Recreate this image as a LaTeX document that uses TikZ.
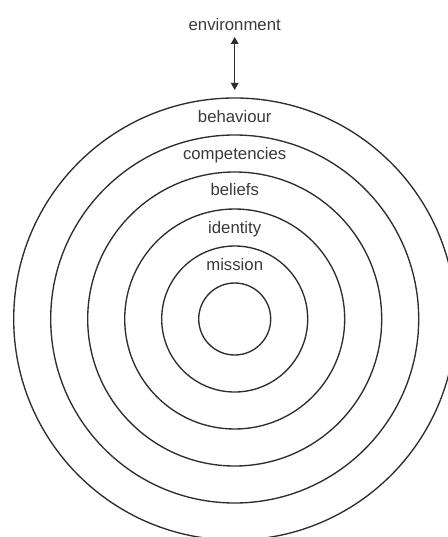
\documentclass[tikz,border=0pt]{standalone}
\usepackage{fontspec}
\setmainfont{Liberation Sans}
\usetikzlibrary{arrows.meta}
\definecolor{linec}{HTML}{2E2E2E}
\definecolor{textc}{HTML}{3A3A3A}
\begin{document}
\begin{tikzpicture}[x=1bp,y=1bp,
  ring/.style={circle, draw=linec, line width=1.35bp, inner sep=0pt, outer sep=0pt},
  lbl/.style={anchor=base, font=\fontsize{16.8}{19}\selectfont, text=textc, inner sep=0pt},
  arr/.style={draw=linec, line width=1.4bp, {Triangle[length=7bp,width=7.5bp]}-{Triangle[length=7bp,width=7.5bp]}}]
\useasboundingbox (0,0) rectangle (448,-537);
\coordinate (c) at (234.7,-319);
\node[ring, minimum size=72bp]  (r1) at (c) {};
\node[ring, minimum size=146bp] (r2) at (c) {};
\node[ring, minimum size=220bp] (r3) at (c) {};
\node[ring, minimum size=294bp] (r4) at (c) {};
\node[ring, minimum size=368bp] (r5) at (c) {};
\node[ring, minimum size=442bp] (r6) at (c) {};
\node[lbl] (env) at (234.7,-30.5) {environment};
\node[lbl] (beh) at (234.7,-122.3) {behaviour};
\node[lbl] (com) at (234.7,-159.3) {competencies};
\node[lbl] (bel) at (234.7,-196) {beliefs};
\node[lbl] (ide) at (234.7,-233) {identity};
\node[lbl] (mis) at (234.7,-270.5) {mission};
\draw[arr] ([yshift=-6.5bp]r6.north |- env.base) -- ([yshift=8bp]r6.north);
\end{tikzpicture}
\end{document}
